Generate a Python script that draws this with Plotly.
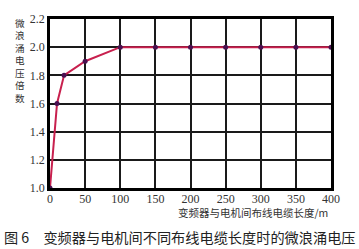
import plotly.graph_objects as go

cable_length = [0, 10, 20, 50, 100, 150, 200, 250, 300, 350, 400]
surge_ratio = [1.0, 1.6, 1.8, 1.9, 2.0, 2.0, 2.0, 2.0, 2.0, 2.0, 2.0]
x_ticks = [0, 50, 100, 150, 200, 250, 300, 350, 400]
y_ticks = [1.0, 1.2, 1.4, 1.6, 1.8, 2.0, 2.2]

y_title = "微浪涌电压倍数"
x_title = "变频器与电机间布线电缆长度/m"
caption = "图 6　变频器与电机间不同布线电缆长度时的微浪涌电压"

W, H = 359, 249
ML, MR, MT, MB = 50, 28, 15, 61
PW, PH = W - ML - MR, H - MT - MB


def px(xp):
    return (xp - ML) / PW


def py(yp):
    return (H - MB - yp) / PH


fig = go.Figure()
fig.add_trace(go.Scatter(
    x=cable_length, y=surge_ratio, mode="lines+markers",
    line=dict(color="#c8204e", width=2),
    marker=dict(color="#4a1050", size=5),
    cliponaxis=False, showlegend=False,
))

axis_common = dict(
    showgrid=True, gridcolor="#1a1a1a", gridwidth=1.5,
    zeroline=False, showline=True, linecolor="#000000", linewidth=2.5,
    mirror=True, ticks="", tickfont=dict(family="Liberation Serif", size=12, color="#333333"),
)
fig.update_xaxes(range=[0, 400], tickvals=x_ticks, ticktext=[str(v) for v in x_ticks],
                 ticklabelstandoff=-2, **axis_common)
fig.update_yaxes(range=[1.0, 2.2], tickvals=y_ticks, ticktext=[f"{v:.1f}" for v in y_ticks],
                 ticklabelstandoff=0, **axis_common)

cjk = "Noto Sans CJK SC"
fig.add_annotation(text="<br>".join(y_title), xref="paper", yref="paper",
                   x=px(19.5), y=py(11), xanchor="center", yanchor="top",
                   showarrow=False, borderpad=0, align="center",
                   font=dict(family=cjk, size=9.6, color="#333333"))
fig.add_annotation(text=x_title, xref="paper", yref="paper",
                   x=px(329), y=py(213), xanchor="right", yanchor="middle", showarrow=False,
                   borderpad=0, font=dict(family=cjk, size=10.5, color="#333333"))
fig.add_annotation(text=caption, xref="paper", yref="paper",
                   x=px(3), y=py(238), xanchor="left", yanchor="middle", showarrow=False,
                   borderpad=0, font=dict(family=cjk, size=14.2, color="#222222"))

fig.update_layout(
    width=W, height=H,
    margin=dict(l=ML, r=MR, t=MT, b=MB),
    paper_bgcolor="white", plot_bgcolor="white",
)
fig.write_html("out.html")
